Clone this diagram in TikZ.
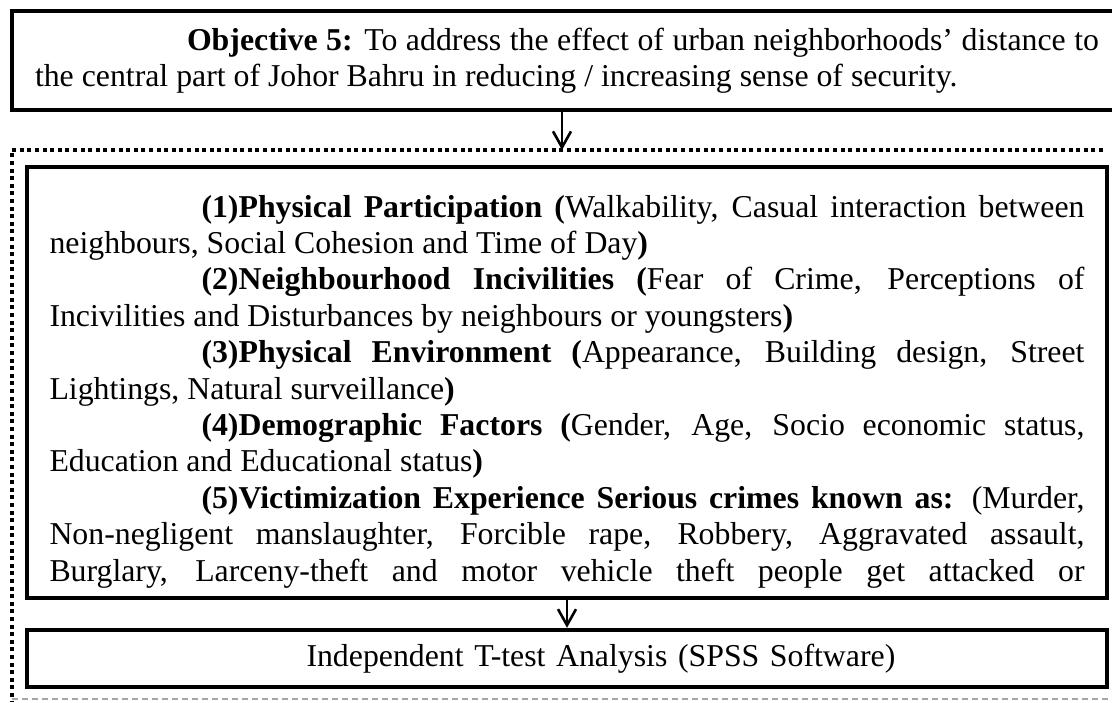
\documentclass[tikz,border=0pt]{standalone}
\usepackage{fontspec}
\setmainfont{Liberation Serif}
\usetikzlibrary{arrows.meta}
\hyphenpenalty=10000

\begin{document}
\begin{tikzpicture}[x=0.5pt, y=-0.5pt]

%-------------------------------------------------
% Styles
%-------------------------------------------------
\tikzset{
  box/.style={draw=black, line width=2.2pt, rectangle, inner sep=0pt, align=justify,
    font=\fontsize{15.9pt}{18.2pt}\selectfont},
  frame_dot/.style={draw=black, line width=2pt, dash pattern=on 2pt off 1.8pt},
  frame_dash/.style={draw=gray!70, line width=0.6pt, dash pattern=on 3pt off 2pt},
  flow/.style={draw=black, line width=1.3pt, -{Straight Barb[length=8pt,width=9pt]}}
}

\useasboundingbox (0,0) rectangle (1112,702);

%-------------------------------------------------
% Frame round the factors
%-------------------------------------------------
\draw[frame_dot] (1103,150) -- (12,150) -- (12,702);
\draw[frame_dash] (12,699) -- (1112,699);

%-------------------------------------------------
% Objective
%-------------------------------------------------
\node[box, minimum width=555pt, minimum height=49.5pt, text width=532pt] (obj) at (567,60.5)
  {\hspace*{76pt}\textbf{Objective 5:} To address the effect of urban neighborhoods’ distance to\linebreak
   the central part of Johor Bahru in reducing / increasing sense of security.};

%-------------------------------------------------
% Factors
%-------------------------------------------------
\node[box, minimum width=540pt, minimum height=215.5pt, text width=517.5pt] (factors) at (567,382.5)
  {\rule{0pt}{20pt}\hspace*{76pt}\textbf{(1)Physical Participation (}Walkability, Casual interaction between\linebreak
   neighbours, Social Cohesion and Time of Day\textbf{)}\par
   \hspace*{76pt}\textbf{(2)Neighbourhood Incivilities (}Fear of Crime, Perceptions of\linebreak
   Incivilities and Disturbances by neighbours or youngsters\textbf{)}\par
   \hspace*{76pt}\textbf{(3)Physical Environment (}Appearance, Building design, Street\linebreak
   Lightings, Natural surveillance\textbf{)}\par
   \hspace*{76pt}\textbf{(4)Demographic Factors (}Gender, Age, Socio economic status,\linebreak
   Education and Educational status\textbf{)}\par
   \hspace*{76pt}\textbf{(5)Victimization Experience Serious crimes known as:} (Murder,\linebreak
   Non-negligent manslaughter, Forcible rape, Robbery, Aggravated assault,\linebreak
   Burglary, Larceny-theft and motor vehicle theft people get attacked or\parfillskip=0pt\par};

%-------------------------------------------------
% Analysis
%-------------------------------------------------
\node[box, minimum width=540pt, minimum height=28.5pt, text width=517.5pt, align=left] (ttest) at (567,658.5)
  {\hspace*{128.5pt}Independent T-test Analysis (SPSS Software)};

%-------------------------------------------------
% Arrows
%-------------------------------------------------
\coordinate (frametop) at (562,150);
\draw[flow] (obj.south -| frametop) -- (frametop);
\draw[flow] (factors.south) -- (ttest.north);

\end{tikzpicture}
\end{document}
